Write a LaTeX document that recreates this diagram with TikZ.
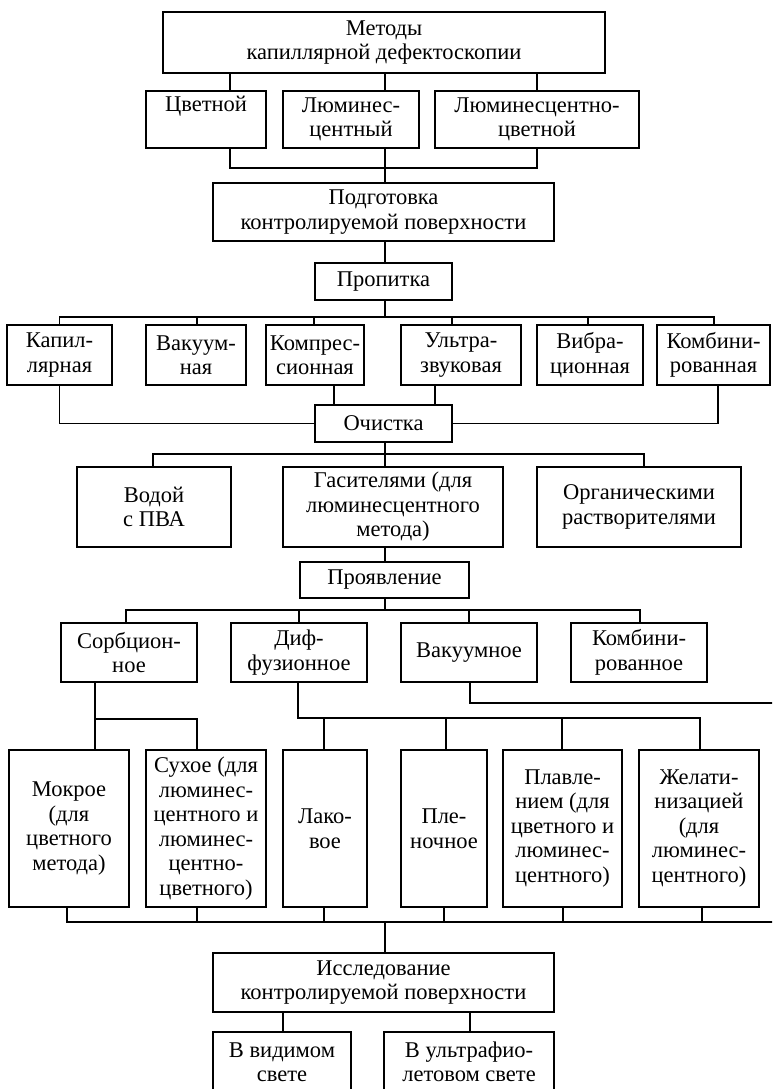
\documentclass[tikz,border=0pt]{standalone}
\usepackage{fontspec}
\setmainfont{Liberation Serif}
\usepackage{xcolor}
\usepackage{tikz}

\begin{document}
\begin{tikzpicture}[x=1pt, y=-1pt, line width=1.6pt,
    box/.style={draw, rectangle, align=center, inner sep=0pt, font=\fontsize{22.5}{24.5}\selectfont}]
            \useasboundingbox (0,0) rectangle (772,1089);
            \clip (0,0) rectangle (772,1089);

            \node[box, minimum width=442, minimum height=61] (metody) at (384,42.5) {Методы\\капиллярной дефектоскопии};
            \node[box, minimum width=120, minimum height=57] (cvet) at (206,119.5) {Цветной\\\strut};
            \node[box, minimum width=136, minimum height=57] (lum) at (351,119.5) {Люминес-\\центный};
            \node[box, minimum width=204, minimum height=57] (lumcv) at (537,119.5) {Люминесцентно-\\цветной};
            \node[box, minimum width=341, minimum height=58] (podg) at (383.5,212) {Подготовка\\контролируемой поверхности};
            \node[box, minimum width=137, minimum height=37] (prop) at (383.5,281.5) {Пропитка};

            \node[box, minimum width=105, minimum height=60] (kapil) at (59.5,355) {Капил-\\лярная};
            \node[box, minimum width=100, minimum height=60] (vakuum) at (196,355) {Вакуум-\\ная};
            \node[box, minimum width=98, minimum height=60] (kompr) at (315,355) {Компрес-\\сионная};
            \node[box, minimum width=120, minimum height=60] (ultra) at (461,355) {Ультра-\\звуковая};
            \node[box, minimum width=106, minimum height=60] (vibra) at (590,355) {Вибра-\\ционная};
            \node[box, minimum width=113, minimum height=60] (kombi) at (713.5,355) {Комбини-\\рованная};
            \node[box, minimum width=137, minimum height=37] (ochist) at (383.5,423.5) {Очистка};

            \node[box, minimum width=154, minimum height=80] (vodoy) at (154,507) {Водой\\с ПВА};
            \node[box, minimum width=220, minimum height=80] (gasit) at (393,507) {Гасителями (для\\люминесцентного\\метода)};
            \node[box, minimum width=204, minimum height=80] (organ) at (639,507) {Органическими\\растворителями};
            \node[box, minimum width=169, minimum height=36] (proyav) at (384.5,580) {Проявление};

            \node[box, minimum width=136, minimum height=59] (sorb) at (129,652.5) {Сорбцион-\\ное};
            \node[box, minimum width=136, minimum height=59] (diff) at (299,652.5) {Диф-\\фузионное};
            \node[box, minimum width=136, minimum height=59] (vakn) at (469,652.5) {Вакуумное};
            \node[box, minimum width=136, minimum height=59] (kombn) at (639,652.5) {Комбини-\\рованное};

            \node[box, minimum width=120, minimum height=157] (mokr) at (69,828.5) {Мокрое\\(для\\цветного\\метода)};
            \node[box, minimum width=120, minimum height=157] (suh) at (206,828.5) {Сухое (для\\люминес-\\центного и\\люминес-\\центно-\\цветного)};
            \node[box, minimum width=84, minimum height=157] (lak) at (325,828.5) {Лако-\\вое};
            \node[box, minimum width=86, minimum height=157] (plen) at (444,828.5) {Пле-\\ночное};
            \node[box, minimum width=119, minimum height=157] (plav) at (562.5,828.5) {Плавле-\\нием (для\\цветного и\\люминес-\\центного)};
            \node[box, minimum width=120, minimum height=157] (zhel) at (699,828.5) {Желати-\\низацией\\(для\\люминес-\\центного)};

            \node[box, minimum width=341, minimum height=59] (issl) at (383.5,982.5) {Исследование\\контролируемой поверхности};
            \node[box, minimum width=138, minimum height=60] (vvid) at (282,1062) {В видимом\\свете};
            \node[box, minimum width=170, minimum height=60] (vuf) at (469,1062) {В ультрафио-\\летовом свете};

            \draw (230,0 |- metody.south) -- (230,0 |- cvet.north);
            \draw (385,0 |- metody.south) -- (385,0 |- lum.north);
            \draw (537,0 |- metody.south) -- (537,0 |- lumcv.north);
            \draw (230,0 |- cvet.south) -- (230,168) -- (537,168) -- (537,0 |- lumcv.south);
            \draw (385,0 |- lum.south) -- (385,0 |- podg.north);
            \draw (385,0 |- podg.south) -- (385,0 |- prop.north);

            \draw (385,0 |- prop.south) -- (385,317);
            \draw (kapil.north) |- (714,317) -- (714,0 |- kombi.north);
            \draw (197,317) -- (197,0 |- vakuum.north);
            \draw (314,317) -- (314,0 |- kompr.north);
            \draw (452,317) -- (452,0 |- ultra.north);
            \draw (588,317) -- (588,0 |- vibra.north);
            \draw (kapil.south) |- (ochist.west);
            \draw (718,0 |- kombi.south) |- (ochist.east);
            \draw (334,0 |- kompr.south) -- (334,0 |- ochist.north);
            \draw (435,0 |- ultra.south) -- (435,0 |- ochist.north);

            \draw (385,0 |- ochist.south) -- (385,0 |- gasit.north);
            \draw (153,0 |- vodoy.north) |- (644,454) -- (644,0 |- organ.north);
            \draw (385,0 |- gasit.south) -- (385,0 |- proyav.north);

            \draw (385,0 |- proyav.south) -- (385,610);
            \draw (126,0 |- sorb.north) |- (640,610) -- (640,0 |- kombn.north);
            \draw (299,610) -- (299,0 |- diff.north);
            \draw (469,610) -- (469,0 |- vakn.north);

            \draw (95,0 |- sorb.south) -- (95,0 |- mokr.north);
            \draw (95,719) -- (197,719) -- (197,0 |- suh.north);
            \draw (298,0 |- diff.south) |- (700,718) -- (700,0 |- zhel.north);
            \draw (324,718) -- (324,0 |- lak.north);
            \draw (446,718) -- (446,0 |- plen.north);
            \draw (562,718) -- (562,0 |- plav.north);
            \draw (470,0 |- vakn.south) |- (790,703);

            \draw (67,0 |- mokr.south) |- (790,922);
            \draw (197,0 |- suh.south) -- (197,922);
            \draw (324,0 |- lak.south) -- (324,922);
            \draw (444,0 |- plen.south) -- (444,922);
            \draw (563,0 |- plav.south) -- (563,922);
            \draw (702,0 |- zhel.south) -- (702,922);
            \draw (385,922) -- (385,0 |- issl.north);
            \draw (283,0 |- issl.south) -- (283,0 |- vvid.north);
            \draw (470,0 |- issl.south) -- (470,0 |- vuf.north);
        \end{tikzpicture}
\end{document}
